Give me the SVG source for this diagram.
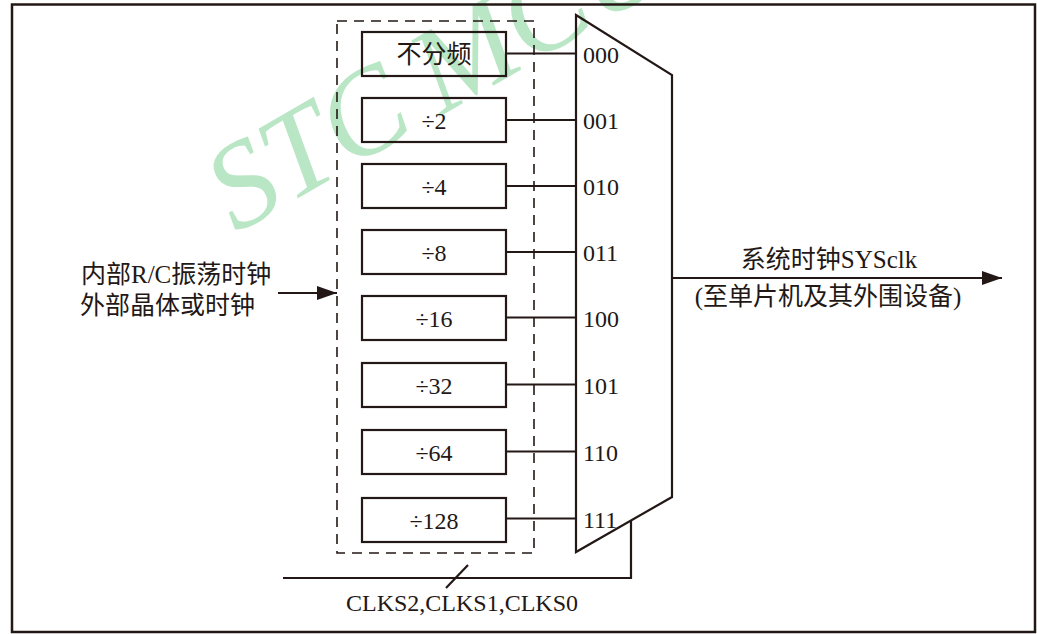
<svg xmlns="http://www.w3.org/2000/svg" width="1037" height="634" viewBox="0 0 1037 634">
<style>
.frame{fill:none;stroke:#231815;stroke-width:2.5}
.box{fill:none;stroke:#231815;stroke-width:2.2}
.dash{fill:none;stroke:#231815;stroke-width:1.6;stroke-dasharray:10 7}
.ln{fill:none;stroke:#231815;stroke-width:2.2}
.t{font-family:"Liberation Serif","Noto Sans CJK SC",serif;font-size:24px;fill:#231815}
.c{font-family:"Liberation Serif","Noto Sans CJK SC",serif;font-size:25px;fill:#231815}
.wm{font-family:"Liberation Serif",serif;font-style:italic;font-size:122px;fill:#b9e6c4}
</style>
<defs>
<marker id="ah2" viewBox="0 0 20 14" refX="20" refY="7" markerWidth="20" markerHeight="14" markerUnits="userSpaceOnUse" orient="auto">
<path d="M0,0 L20,7 L0,14 Z" fill="#231815"/>
</marker>
</defs>
<rect x="0" y="0" width="1037" height="634" fill="#ffffff"/>
<text class="wm" transform="translate(236,234) rotate(-30)">STC<tspan dx="26">MCU</tspan></text>
<rect class="frame" x="12" y="4.5" width="1023" height="627.5"/>
<g id="divider">
<rect class="dash" x="337" y="21" width="197" height="532"/>
</g>
<g id="boxes">
<g id="b0"><rect class="box" x="362" y="32" width="144" height="44"/><text class="c" x="434" y="63" text-anchor="middle">不分频</text></g>
<g id="b1"><rect class="box" x="362" y="98" width="144" height="44"/><text class="t" x="434" y="129" text-anchor="middle">÷2</text></g>
<g id="b2"><rect class="box" x="362" y="164" width="144" height="44"/><text class="t" x="434" y="195" text-anchor="middle">÷4</text></g>
<g id="b3"><rect class="box" x="362" y="230" width="144" height="44"/><text class="t" x="434" y="261" text-anchor="middle">÷8</text></g>
<g id="b4"><rect class="box" x="362" y="296" width="144" height="44"/><text class="t" x="434" y="327" text-anchor="middle">÷16</text></g>
<g id="b5"><rect class="box" x="362" y="363" width="144" height="44"/><text class="t" x="434" y="394" text-anchor="middle">÷32</text></g>
<g id="b6"><rect class="box" x="362" y="430" width="144" height="44"/><text class="t" x="434" y="461" text-anchor="middle">÷64</text></g>
<g id="b7"><rect class="box" x="362" y="498" width="144" height="44"/><text class="t" x="434" y="529" text-anchor="middle">÷128</text></g>
</g>
<g id="mux">
<path class="ln" d="M576,15 L672,75 L672,497 L576,552 Z"/>
<text class="t" x="583" y="62.5">000</text>
<text class="t" x="583" y="129">001</text>
<text class="t" x="583" y="195">010</text>
<text class="t" x="583" y="261">011</text>
<text class="t" x="583" y="327">100</text>
<text class="t" x="583" y="394">101</text>
<text class="t" x="583" y="461">110</text>
<text class="t" x="583" y="528">111</text>
</g>
<g id="input">
<text class="c" x="81" y="283">内部R/C振荡时钟</text>
<text class="c" x="80" y="314">外部晶体或时钟</text>
</g>
<g id="output">
<text class="c" x="829" y="268" text-anchor="middle">系统时钟SYSclk</text>
<text class="c" x="828" y="305" text-anchor="middle">(至单片机及其外围设备)</text>
</g>
<g id="select">
<text class="t" x="346" y="611">CLKS2,CLKS1,CLKS0</text>
</g>
<g id="connectors">
<line class="ln" x1="506" y1="53.5" x2="576" y2="53.5"/>
<line class="ln" x1="506" y1="120" x2="576" y2="120"/>
<line class="ln" x1="506" y1="186" x2="576" y2="186"/>
<line class="ln" x1="506" y1="252" x2="576" y2="252"/>
<line class="ln" x1="506" y1="317.5" x2="576" y2="317.5"/>
<line class="ln" x1="506" y1="384.5" x2="576" y2="384.5"/>
<line class="ln" x1="506" y1="451.5" x2="576" y2="451.5"/>
<line class="ln" x1="506" y1="518.5" x2="576" y2="518.5"/>
<line class="ln" x1="278" y1="293" x2="337" y2="293" marker-end="url(#ah2)"/>
<line class="ln" x1="672" y1="278" x2="1002" y2="278" marker-end="url(#ah2)"/>
<polyline class="ln" points="631,521 631,578 283,578"/>
<line class="ln" x1="446" y1="588" x2="468" y2="565"/>
</g>
</svg>
